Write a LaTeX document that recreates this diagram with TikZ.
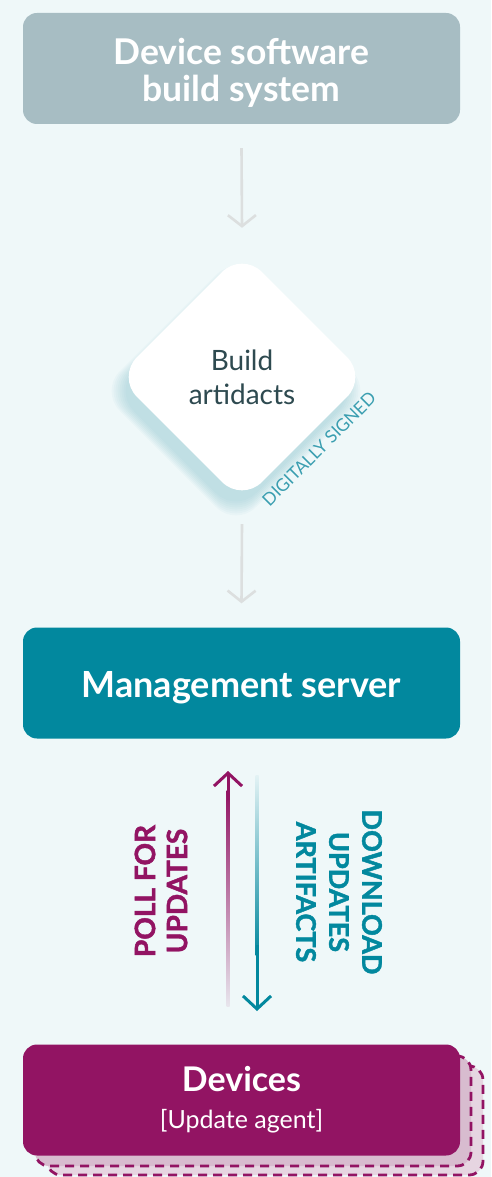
\documentclass[tikz,border=0pt]{standalone}
\usepackage{fontspec}
\setmainfont{Lato}
\newfontfamily\heavyfont{Lato}[BoldFeatures={FakeBold=1.6}]
\usetikzlibrary{arrows.meta,shapes.geometric}
\definecolor{bg}{HTML}{EFF8F9}
\definecolor{topc}{HTML}{A7BDC3}
\definecolor{tealc}{HTML}{02889E}
\definecolor{magc}{HTML}{921463}
\definecolor{grayar}{HTML}{DCDFDF}
\definecolor{darktxt}{HTML}{2E4A50}
\definecolor{signc}{HTML}{3A9EB0}
\definecolor{layA}{HTML}{D8BCCF}
\definecolor{layB}{HTML}{E6D5E1}
\definecolor{shadc}{HTML}{8CC6D0}
\begin{document}
\begin{tikzpicture}[x=1pt,y=-1pt,
  box/.style={rectangle, rounded corners=14pt, minimum width=437pt, minimum height=111pt, inner sep=0pt, align=center, text=white},
  grayarrow/.style={draw=grayar, line width=2.6pt, -{Straight Barb[length=11pt,width=28pt,line width=2.6pt]}},
  polarrow/.style={draw=magc, line width=3pt, -{Straight Barb[length=13pt,width=28pt,line width=3pt]}},
  dlarrow/.style={draw=tealc, line width=3pt, -{Straight Barb[length=13pt,width=28pt,line width=3pt]}},
  layer/.style={draw=magc, line width=2.8pt, dash pattern=on 9pt off 6pt, rounded corners=14pt},
  capsA/.style={font=\fontsize{28}{32}\selectfont\heavyfont\bfseries, align=center, inner sep=0pt}
]
\fill[bg] (0,0) rectangle (491,1177);
\useasboundingbox (0,0) rectangle (491,1177);

% top box
\node[box, fill=topc, font=\fontsize{35.5}{37}\selectfont\bfseries] (build) at (241.5,68.5) {\rule{0pt}{34pt}Device software\\build system};

% diamond shadow
\foreach \r in {0,2,...,14}{
  \fill[shadc, opacity=0.07, rounded corners=28pt]
    (236,{391-122-\r}) -- ({236+122+\r},391) -- (236,{391+122+\r}) -- ({236-122-\r},391) -- cycle;
}
\node[diamond, minimum width=250pt, minimum height=250pt, inner sep=0pt, rounded corners=28pt, fill=white, text=darktxt, align=center, font=\fontsize{28}{34}\selectfont] (diam) at (242,377) {Build\\artidacts};
\node[rotate=45, text=signc, font=\fontsize{17.5}{20}\selectfont, inner sep=0pt] (sign) at (319,449) {DIGITALLY SIGNED};

\draw[grayarrow] ([yshift=-24pt]build.south) -- ([yshift=24pt]diam.north);

% management server
\node[box, fill=tealc, font=\fontsize{36}{40}\selectfont\bfseries] (mgmt) at (241.5,683) {\rule{0pt}{35pt}Management server};
\draw[grayarrow] ([yshift=-22pt]diam.south) -- ([yshift=24pt]mgmt.north);

% devices with stacked layers
\draw[layer, fill=layB] (47,1066) rectangle (483,1175);
\draw[layer, fill=layA] (35,1056) rectangle (471,1166);
\node[box, fill=magc, font=\fontsize{25}{37}\selectfont] (dev) at (241.5,1100) {{\fontsize{34}{37}\selectfont\bfseries Devices}\\{\fontsize{25}{37}\selectfont [Update agent]}};

% poll arrow
\coordinate (pollS) at (228,1006);
\coordinate (pollM) at (228,800);
\coordinate (pollE) at (228,771);
\shade[top color=magc, middle color=magc, bottom color=magc!8!bg] (226.5,790) rectangle (229.5,1006);
\draw[polarrow] (pollM) -- (pollE);

% download arrow
\coordinate (dlS) at (257,775);
\coordinate (dlM) at (257,945);
\coordinate (dlE) at (257,1011);
\shade[top color=tealc!5!bg, middle color=tealc, bottom color=tealc] (255.5,775) rectangle (258.5,955);
\draw[dlarrow] (dlM) -- (dlE);

% labels
\node[capsA, text=magc, rotate=90] (pollL) at (161,891) {POLL FOR\\UPDATES};
\node[capsA, text=tealc, rotate=-90, font=\fontsize{27}{33}\selectfont\heavyfont\bfseries] (dlL) at (339,892) {DOWNLOAD\\UPDATES\\ARTIFACTS};
\end{tikzpicture}
\end{document}
